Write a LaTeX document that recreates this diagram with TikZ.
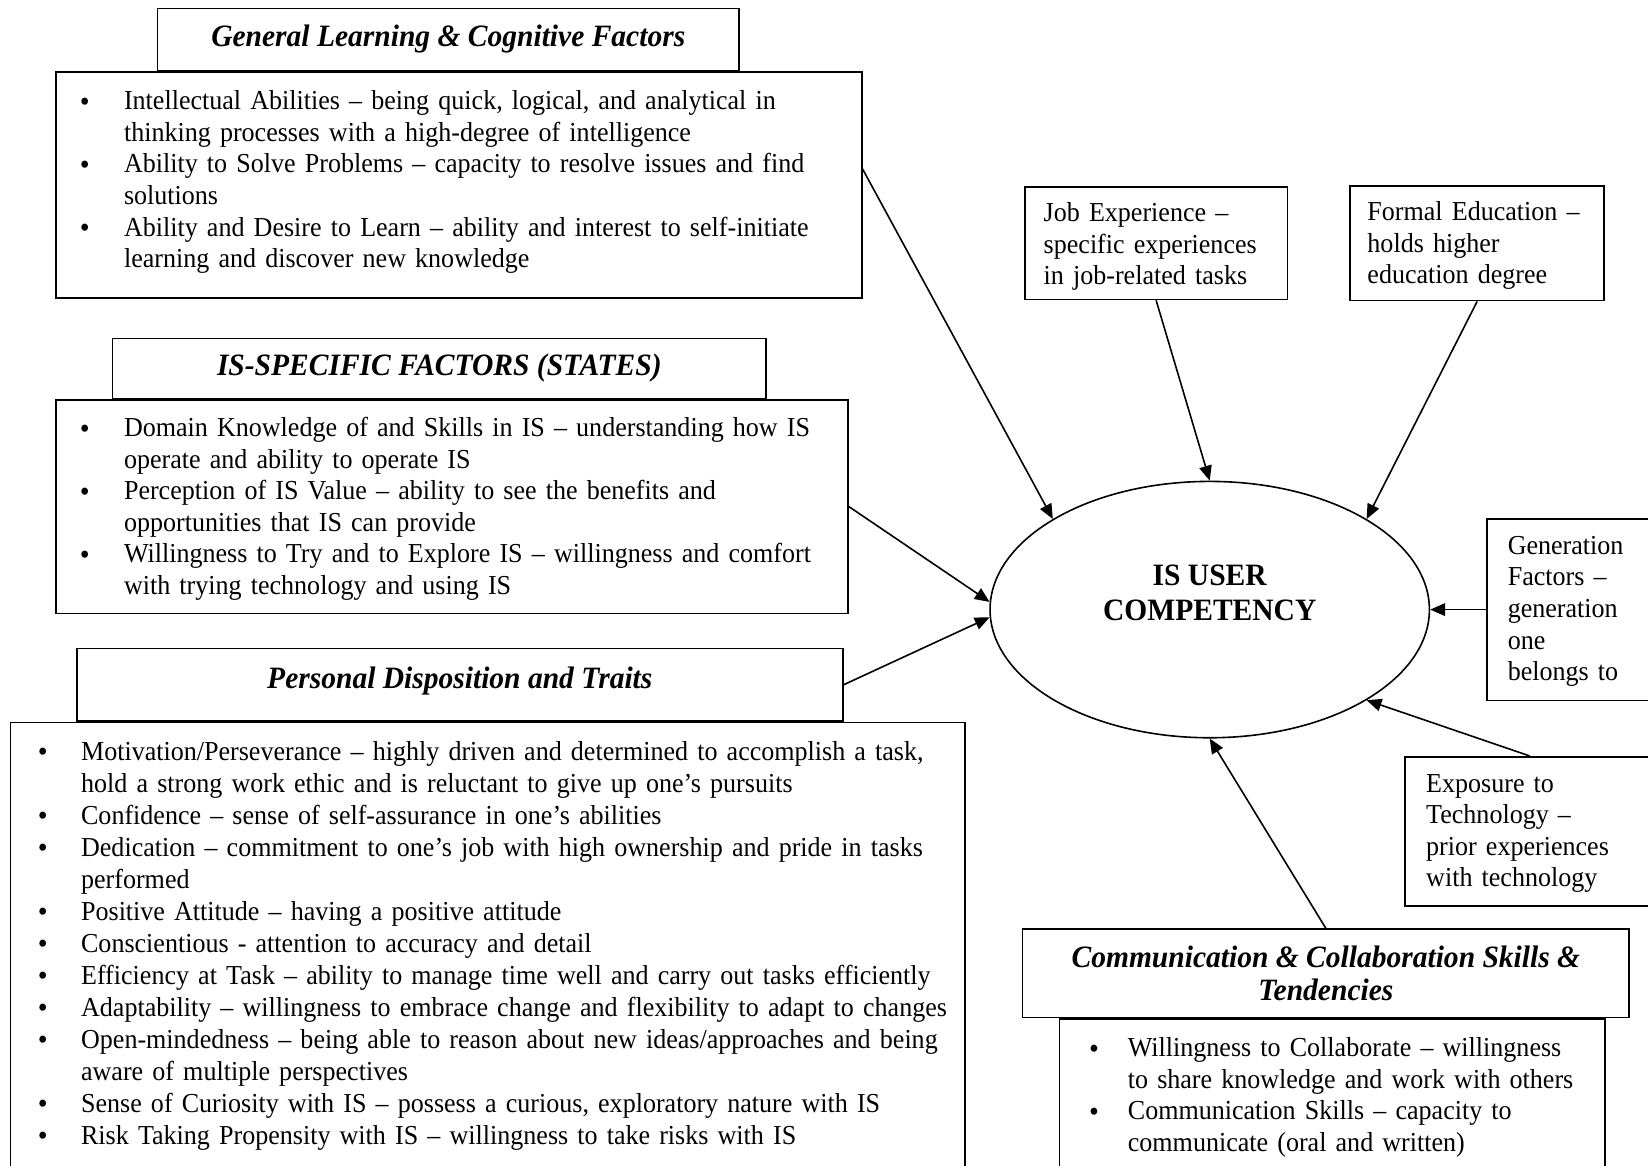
\documentclass[tikz,border=0pt]{standalone}
\usepackage{fontspec}
\setmainfont{Liberation Serif}[FakeStretch=0.95]
\usepackage{tikz}
\usetikzlibrary{shapes.geometric, arrows.meta, positioning, calc}

% lista com marcadores para o conteudo das caixas
\newcommand{\bul}{\smash{\raisebox{-0.6pt}{\fontsize{13pt}{13pt}\selectfont\textbullet}}}
\newenvironment{traits}[1]{\begin{tabular}[t]{@{}p{#1}@{}l@{}}}{\end{tabular}}

\begin{document}
\begin{tikzpicture}[x=0.46pt, y=-0.46pt,
        % 1. estilos
        base/.style={draw, line width=0.7pt, inner sep=0pt,
            font=\fontsize{12pt}{13.8pt}\selectfont},
        % titulos (negrito italico)
        title/.style={base, align=center,
            font=\fontsize{13.6pt}{14.3pt}\selectfont\bfseries\itshape},
        % caixas com listas
        body/.style={base, align=left, text height=16.6pt},
        % caixas pequenas da direita
        note/.style={base, align=left, inner xsep=8.3pt, text height=15.2pt},
        % elipse central
        core/.style={ellipse, draw, line width=0.7pt, inner sep=0pt,
            minimum width=192.3pt, minimum height=112.2pt, align=center,
            font=\fontsize{13.6pt}{15pt}\selectfont\bfseries,
            text height=25pt, text depth=15.8pt},
        arrow/.style={line width=0.7pt, -{Triangle[length=6.5pt, width=5.5pt]}}
    ]
        \clip (0,0) rectangle (1568,1109);

        % 2. nos
        \node[core] (user) at (1151,580) {IS USER\\COMPETENCY};

        \node[title, minimum width=254.4pt, minimum height=27.1pt] (gltitle) at (426.5,37.5)
            {General Learning \& Cognitive Factors};
        \node[body, below=0pt of gltitle, xshift=4.6pt, inner xsep=10.6pt,
            text width=331.6pt, text depth=82.3pt] (glbody) {\begin{traits}{19.3pt}
            \bul & Intellectual Abilities -- being quick, logical, and analytical in\\
            & thinking processes with a high-degree of intelligence\\
            \bul & Ability to Solve Problems -- capacity to resolve issues and find\\
            & solutions\\
            \bul & Ability and Desire to Learn -- ability and interest to self-initiate\\
            & learning and discover new knowledge
            \end{traits}};

        \node[title, minimum width=286.1pt, minimum height=26.2pt] (istitle) at (418,350.5)
            {IS-SPECIFIC FACTORS (STATES)};
        \node[body, below=0pt of istitle, xshift=5.5pt, inner xsep=10.6pt,
            text width=325.6pt, text height=16.1pt, text depth=77.3pt] (isbody) {\begin{traits}{19.3pt}
            \bul & Domain Knowledge of and Skills in IS -- understanding how IS\\
            & operate and ability to operate IS\\
            \bul & Perception of IS Value -- ability to see the benefits and\\
            & opportunities that IS can provide\\
            \bul & Willingness to Try and to Explore IS -- willingness and comfort\\
            & with trying technology and using IS
            \end{traits}};

        \node[title, minimum width=335.3pt, minimum height=31.7pt,
            text height=9.6pt, text depth=6.4pt] (pdtitle) at (437.5,651.5)
            {Personal Disposition and Traits};
        \node[body, below=0pt of pdtitle, xshift=12.2pt, inner xsep=12pt,
            text width=393.7pt, text depth=187.7pt,
            font=\fontsize{12pt}{14pt}\selectfont] (pdbody) {\begin{traits}{18.9pt}
            \bul & Motivation/Perseverance -- highly driven and determined to accomplish a task,\\
            & hold a strong work ethic and is reluctant to give up one's pursuits\\
            \bul & Confidence -- sense of self-assurance in one's abilities\\
            \bul & Dedication -- commitment to one's job with high ownership and pride in tasks\\
            & performed\\
            \bul & Positive Attitude -- having a positive attitude\\
            \bul & Conscientious - attention to accuracy and detail\\
            \bul & Efficiency at Task -- ability to manage time well and carry out tasks efficiently\\
            \bul & Adaptability -- willingness to embrace change and flexibility to adapt to changes\\
            \bul & Open-mindedness -- being able to reason about new ideas/approaches and being\\
            & aware of multiple perspectives\\
            \bul & Sense of Curiosity with IS -- possess a curious, exploratory nature with IS\\
            \bul & Risk Taking Propensity with IS -- willingness to take risks with IS
            \end{traits}};

        \node[note, text width=98.4pt, text depth=34pt] (job) at (1100,231.5)
            {Job Experience --\\specific experiences\\in job-related tasks};
        \node[note, right=26.7pt of job, inner xsep=7.6pt, text width=96pt, text depth=35pt] (formal)
            {Formal Education --\\holds higher\\education degree};

        \node[note, right=24.4pt of user, inner xsep=9.2pt, text width=67.6pt,
            text height=15.6pt, text depth=63.9pt] (gen)
            {Generation\\Factors --\\generation\\one\\belongs to};
        \node[note, inner xsep=9.2pt, text width=98pt, text height=15.6pt,
            text depth=49.7pt] (expo) at (1463.5,791)
            {Exposure to\\Technology --\\prior experiences\\with technology};

        \node[title, minimum width=265.4pt, minimum height=38.6pt] (commtitle) at (1261.5,926)
            {Communication \& Collaboration Skills \&\\Tendencies};
        \node[body, below=0pt of commtitle, xshift=2.8pt, inner xsep=12.9pt,
            text width=212.9pt, text depth=58pt] (commbody) {\begin{traits}{17pt}
            \bul & Willingness to Collaborate -- willingness\\
            & to share knowledge and work with others\\
            \bul & Communication Skills -- capacity to\\
            & communicate (oral and written)
            \end{traits}};

        % 3. setas
        \draw[arrow] ($(glbody.north east)!0.43!(glbody.south east)$) -- (user.150);
        \draw[arrow] (job.south) -- (user.north);
        \draw[arrow] (formal.south) -- (user.30);
        \draw[arrow] (isbody.east) -- (user.178);
        \draw[arrow] (pdtitle.east) -- (user.182);
        \draw[arrow] (gen.west) -- (user.east);
        \draw[arrow] ([xshift=-3.7pt]expo.north) -- (user.-30);
        \draw[arrow] (commtitle.north) -- (user.south);

    \end{tikzpicture}
\end{document}
